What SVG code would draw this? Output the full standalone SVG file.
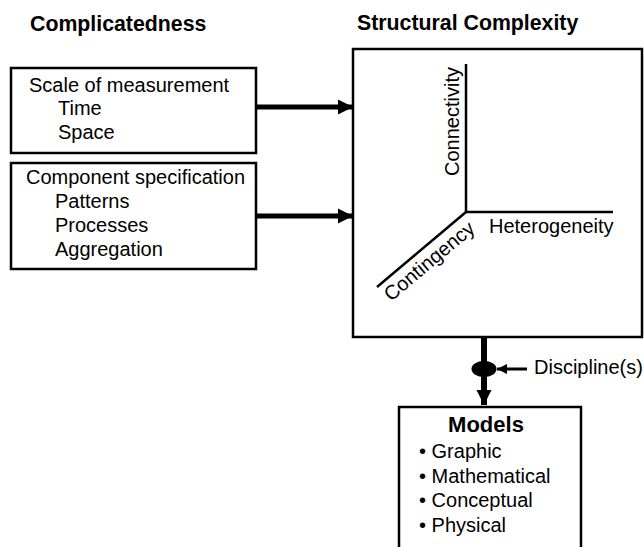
<svg xmlns="http://www.w3.org/2000/svg" width="644" height="547" viewBox="0 0 644 547">
<style>
text{font-family:"Liberation Sans",Arial,sans-serif;fill:#000}
.t{font-size:20px}
.b{font-size:21.3px;font-weight:bold}
.box{fill:#fff;stroke:#000;stroke-width:2.5}
.ax{stroke:#000;stroke-width:2.5;fill:none}
.thick{stroke:#000;stroke-width:5;fill:none}
</style>
<defs>
<marker id="ah" markerUnits="userSpaceOnUse" markerWidth="16" markerHeight="16" refX="15" refY="8" orient="auto">
<path d="M0,0.5 L15,8 L0,15.5 Z" fill="#000"/>
</marker>
<marker id="ahs" markerUnits="userSpaceOnUse" markerWidth="12" markerHeight="12" refX="10" refY="6" orient="auto">
<path d="M0,1 L10,6 L0,11 Z" fill="#000"/>
</marker>
</defs>
<g id="titles">
<text class="b" x="30" y="31">Complicatedness</text>
<text class="b" x="357" y="30">Structural Complexity</text>
</g>
<g id="scale">
<rect class="box" x="11" y="68" width="245" height="85"/>
<text class="t" x="29" y="92">Scale of measurement</text>
<text class="t" x="58" y="115">Time</text>
<text class="t" x="58" y="139">Space</text>
</g>
<g id="component">
<rect class="box" x="11" y="163" width="245" height="106"/>
<text class="t" x="26" y="184">Component specification</text>
<text class="t" x="55" y="208">Patterns</text>
<text class="t" x="55" y="232">Processes</text>
<text class="t" x="55" y="256">Aggregation</text>
</g>
<g id="structural">
<rect class="box" x="353" y="49" width="289" height="288"/>
<line class="ax" x1="466" y1="64" x2="466" y2="212"/>
<line class="ax" x1="465" y1="212" x2="613" y2="212"/>
<line class="ax" x1="466" y1="212" x2="377" y2="287"/>
<text class="t" transform="translate(459,176) rotate(-90)">Connectivity</text>
<text class="t" x="489" y="233">Heterogeneity</text>
<text class="t" transform="translate(391,302) rotate(-40)">Contingency</text>
</g>
<g id="models">
<rect class="box" x="399" y="407" width="182" height="160"/>
<text x="486" y="432" text-anchor="middle" font-size="22" font-weight="bold">Models</text>
<text class="t" x="419" y="458">• Graphic</text>
<text class="t" x="419" y="483">• Mathematical</text>
<text class="t" x="419" y="507">• Conceptual</text>
<text class="t" x="419" y="532">• Physical</text>
</g>
<g id="discipline">
<text class="t" x="534" y="374">Discipline(s)</text>
</g>
<g id="connectors">
<line class="thick" x1="257" y1="107" x2="353" y2="107" marker-end="url(#ah)"/>
<line class="thick" x1="257" y1="216" x2="353" y2="216" marker-end="url(#ah)"/>
<line x1="484" y1="338" x2="484" y2="405" stroke="#000" stroke-width="6" marker-end="url(#ah)"/>
<ellipse cx="484" cy="369" rx="12.5" ry="8" fill="#000"/>
<line x1="527" y1="369" x2="497" y2="369" stroke="#000" stroke-width="3" marker-end="url(#ahs)"/>
</g>
</svg>
